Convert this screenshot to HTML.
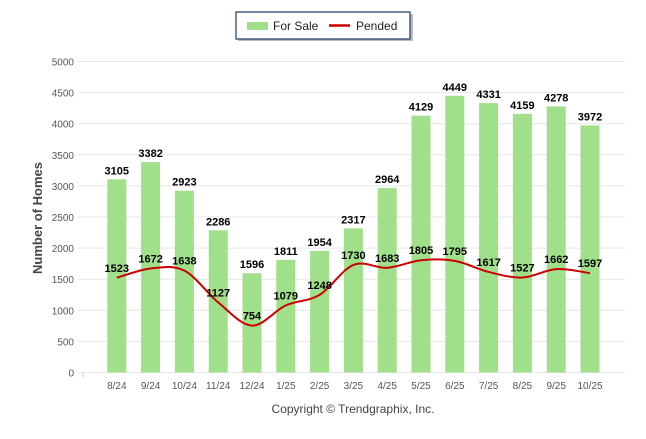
<!DOCTYPE html>
<html><head><meta charset="utf-8"><style>
body{margin:0;background:#fff;font-family:"Liberation Sans",sans-serif}
svg text{font-family:"Liberation Sans",sans-serif}
</style></head><body>
<svg width="646" height="434" xmlns="http://www.w3.org/2000/svg">
<g>
<rect x="238" y="14" width="175" height="27" fill="#bbb"/>
<rect x="236" y="12" width="174" height="27" fill="#fff" stroke="#1f3864" stroke-width="1.2"/>
<rect x="247" y="22" width="21" height="8" fill="#a0e08a"/>
<text x="273" y="30" font-size="12" fill="#222">For Sale</text>
<line x1="329" y1="25.5" x2="350" y2="25.5" stroke="#cc0000" stroke-width="2.5"/>
<text x="356" y="30" font-size="12" fill="#222">Pended</text>
</g>
<text transform="translate(42,218) rotate(-90)" text-anchor="middle" font-size="13" font-weight="bold" fill="#444">Number of Homes</text>
<text x="353" y="413" text-anchor="middle" font-size="12" fill="#444">Copyright © Trendgraphix, Inc.</text>
<g id="grid"></g><g id="bars"></g><g id="line"></g><g id="labels"></g>
</svg>
<script>
const categories=["8/24","9/24","10/24","11/24","12/24","1/25","2/25","3/25","4/25","5/25","6/25","7/25","8/25","9/25","10/25"];
const forSale=[3105,3382,2923,2286,1596,1811,1954,2317,2964,4129,4449,4331,4159,4278,3972];
const pended=[1523,1672,1638,1127,754,1079,1248,1730,1683,1805,1795,1617,1527,1662,1597];
const yTicks=[0,500,1000,1500,2000,2500,3000,3500,4000,4500,5000];
const NS="http://www.w3.org/2000/svg";
const x0=83,band=33.8,y0=372.5,yTop=61.5,yMax=5000;
const X=i=>x0+band*(i+1);
const Y=v=>y0-(y0-yTop)*v/yMax;
function mk(t,a,p){const e=document.createElementNS(NS,t);for(const k in a)e.setAttribute(k,a[k]);p.appendChild(e);return e;}
const grid=document.getElementById('grid'),bars=document.getElementById('bars'),line=document.getElementById('line'),labels=document.getElementById('labels');
yTicks.forEach(v=>{
 const l=mk('line',{x1:78,x2:625,y1:Y(v),y2:Y(v),stroke:'#e6e6e6','stroke-width':1},grid);
 
 
 const t=mk('text',{x:74,y:Y(v)+4,'text-anchor':'end','font-size':10,fill:'#555'},grid);
 t.textContent=v;
 
 
});
mk('line',{x1:x0,x2:x0,y1:y0,y2:y0+5,stroke:'#ccc'},grid);
categories.forEach((c,i)=>{
 const t=mk('text',{x:X(i),y:389,'text-anchor':'middle','font-size':10,fill:'#555'},grid);
 t.textContent=c;
 
 
 const b=mk('rect',{x:X(i)-9.5,y:Y(forSale[i]),width:19,height:y0-Y(forSale[i]),fill:'#a0e08a'},bars);
 
 
 const bl=mk('text',{x:X(i),y:Y(forSale[i])-5,'text-anchor':'middle','font-size':11,'font-weight':'bold',fill:'#000'},labels);
 bl.textContent=forSale[i];
 
 
 const pl=mk('text',{x:X(i),y:Y(pended[i])-6,'text-anchor':'middle','font-size':11,'font-weight':'bold',fill:'#000'},labels);
 pl.textContent=pended[i];
 
 
});
// smooth line (Catmull-Rom)
const pts=pended.map((v,i)=>[X(i),Y(v)]);
let d='M'+pts[0][0]+','+pts[0][1];
for(let i=0;i<pts.length-1;i++){
 const p0=pts[Math.max(0,i-1)],p1=pts[i],p2=pts[i+1],p3=pts[Math.min(pts.length-1,i+2)];
 const c1=[p1[0]+(p2[0]-p0[0])/6,p1[1]+(p2[1]-p0[1])/6],c2=[p2[0]-(p3[0]-p1[0])/6,p2[1]-(p3[1]-p1[1])/6];
 d+=' C'+c1+' '+c2+' '+p2;
}
const pl=mk('path',{d:d,fill:'none',stroke:'#cc0000','stroke-width':2},line);


</script>
</body></html>
